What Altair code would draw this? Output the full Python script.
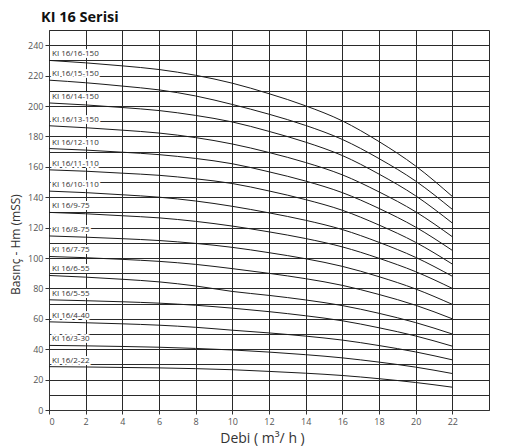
import altair as alt
import pandas as pd

# Flow (m3/h) sample points
q = [0, 2, 4, 6, 8, 10, 12, 14, 16, 18, 20, 22]

models = ["KI 16/16-150", "KI 16/15-150", "KI 16/14-150", "KI 16/13-150",
          "KI 16/12-110", "KI 16/11-110", "KI 16/10-110", "KI 16/9-75",
          "KI 16/8-75", "KI 16/7-75", "KI 16/6-55", "KI 16/5-55",
          "KI 16/4-40", "KI 16/3-30", "KI 16/2-22"]

h_16_150 = [230, 228.4, 226.4, 224, 220.2, 215, 208.1, 200.1, 190.2, 176.6, 160.5, 140.5]
h_15_150 = [217, 215.3, 213.1, 210.6, 206.6, 201, 194.6, 187.2, 178.0, 165.4, 150.6, 132]
h_14_150 = [202, 200.7, 199, 197, 193.8, 189.5, 183.3, 176.2, 167.4, 155.2, 140.9, 123]
h_13_150 = [187, 185.7, 184.1, 182.2, 179.2, 175, 169.4, 162.8, 154.7, 143.5, 130.4, 114]
h_12_110 = [172, 171, 169.6, 168, 165.5, 162, 156.7, 150.6, 143.0, 132.6, 120.3, 105]
h_11_110 = [158, 157.1, 155.8, 154.4, 152.1, 149, 144.1, 138.4, 131.4, 121.7, 110.3, 96]
h_10_110 = [144, 143, 141.6, 140, 137.5, 134, 129.7, 124.8, 118.7, 110.3, 100.4, 88]
h_9_75 = [130, 129.1, 127.8, 126.4, 124.1, 121, 117.2, 112.8, 107.3, 99.8, 91.0, 80]
h_8_75 = [114.5, 113.7, 112.7, 111.5, 109.6, 107, 103.5, 99.5, 94.5, 87.7, 79.6, 69.5]
h_7_75 = [101, 100.2, 99.1, 97.8, 95.8, 93, 89.9, 86.4, 82.0, 76.0, 68.9, 60]
h_6_55 = [88.5, 87.4, 86, 84.3, 81.6, 78, 75.4, 72.4, 68.7, 63.6, 57.5, 50]
h_5_55 = [72.5, 71.9, 71.2, 70.3, 68.9, 67, 64.7, 62, 58.7, 54.1, 48.7, 42]
h_4_40 = [58, 57.4, 56.7, 55.8, 54.4, 52.5, 50.7, 48.6, 46.0, 42.4, 38.2, 33]
h_3_30 = [42.5, 42.2, 41.8, 41.3, 40.5, 39.5, 38.1, 36.4, 34.3, 31.5, 28.2, 24]
h_2_22 = [28.5, 28.3, 28, 27.7, 27.2, 26.5, 25.4, 24.2, 22.7, 20.6, 18.1, 15]

heads = [h_16_150, h_15_150, h_14_150, h_13_150, h_12_110, h_11_110, h_10_110,
         h_9_75, h_8_75, h_7_75, h_6_55, h_5_55, h_4_40, h_3_30, h_2_22]

x_ticks = list(range(0, 25, 2))
y_ticks = list(range(0, 251, 10))

rows = []
for m, hs in zip(models, heads):
    for qq, hh in zip(q, hs):
        rows.append({"model": m, "q": qq, "h": hh})
df = pd.DataFrame(rows)
lab = pd.DataFrame([{"model": m, "q": q[0], "h": hs[0]} for m, hs in zip(models, heads)])

FONT = "Open Sans"

x_enc = alt.X(
    "q:Q",
    scale=alt.Scale(domain=[0, 24], nice=False, zero=False),
    axis=alt.Axis(
        values=x_ticks,
        title="Debi ( m³/ h )",
        titleFont=FONT, titleFontSize=14, titleFontWeight="normal", titleColor="#333",
        titlePadding=5, titleX=213,
        labelExpr="datum.value > 23 ? '' : datum.label",
        labelFont=FONT, labelFontSize=9, labelColor="#555", labelPadding=3,
        tickSize=4, tickColor="#333",
        tickOpacity={"condition": {"test": "datum.value > 23", "value": 0}, "value": 1},
        domainColor="#333",
        grid=True, gridColor="#2a2a2a", gridWidth=1, gridOpacity=1,
    ),
)
y_enc = alt.Y(
    "h:Q",
    scale=alt.Scale(domain=[0, 250], nice=False, zero=True),
    axis=alt.Axis(
        values=y_ticks,
        title="Basınç - Hm (mSS)",
        titleFont=FONT, titleFontSize=12, titleFontWeight="normal", titleColor="#333",
        titleX=-34, titleY=214, titleAngle=270, titleAlign="center", titleBaseline="middle",
        labelExpr="(datum.value % 20 == 0 && datum.value < 245) ? datum.label : ''",
        labelFont=FONT, labelFontSize=9, labelColor="#555", labelPadding=2,
        tickSize=4, tickColor="#333",
        tickOpacity={"condition": {"test": "datum.value % 20 == 0 && datum.value < 245", "value": 1}, "value": 0},
        domainColor="#333",
        grid=True, gridColor="#2a2a2a", gridWidth=1, gridOpacity=1,
    ),
)

lines = alt.Chart(df).mark_line(color="#1a1a1a", strokeWidth=1, interpolate="monotone").encode(
    x=x_enc, y=y_enc, detail="model:N"
)
halo = alt.Chart(lab).mark_text(
    align="left", baseline="middle", dx=3, dy=-6, font=FONT, fontSize=8,
    fill="white", stroke="white", strokeWidth=4, strokeJoin="round"
).encode(x=x_enc, y=y_enc, text="model:N")
text = alt.Chart(lab).mark_text(
    align="left", baseline="middle", dx=3, dy=-6, font=FONT, fontSize=8, color="#333"
).encode(x=x_enc, y=y_enc, text="model:N")

chart = alt.layer(lines, halo, text).properties(
    width=440, height=380,
    title=alt.TitleParams("KI 16 Serisi", anchor="start", frame="group", font=FONT,
                          fontSize=14.5, fontWeight="bold", color="#111", dx=-8, dy=8,
                          baseline="alphabetic", offset=2),
    autosize=alt.AutoSizeParams(type="none"),
    padding={"left": 41, "top": 22, "right": 10, "bottom": 36},
).configure_view(stroke="#333", strokeWidth=1).configure(background="white")

chart.save("out.html", embed_options={"renderer": "svg", "actions": False})
